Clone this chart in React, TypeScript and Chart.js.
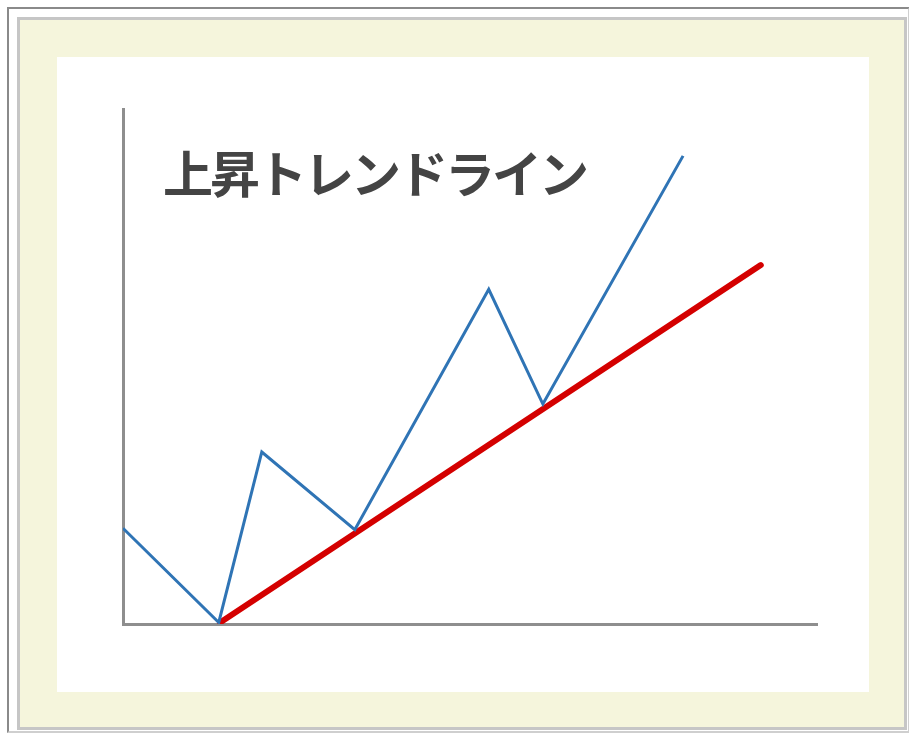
import React, { useEffect, useRef } from "react";
import { Chart, registerables } from "chart.js";

Chart.register(...registerables);

// Price swing (blue zigzag) – x position, price level
const swingX = [0, 13.8, 20.0, 33.4, 52.7, 60.5, 80.7];
const swingY = [18.6, 0.3, 33.4, 18.3, 65.0, 42.7, 90.9];

// Up-trend line (red) – start and end
const trendX = [14.0, 91.9];
const trendY = [0.3, 69.7];

const titleText = "上昇トレンドライン";

export default function App() {
  const ref = useRef<HTMLCanvasElement | null>(null);

  useEffect(() => {
    if (!ref.current) return;
    const chart = new Chart(ref.current, {
      type: "line",
      data: {
        datasets: [
          {
            label: "price",
            data: swingX.map((x, i) => ({ x, y: swingY[i] })),
            borderColor: "#2f74b5",
            borderWidth: 3,
            pointRadius: 0,
            fill: false,
            tension: 0,
            borderJoinStyle: "miter",
          },
          {
            label: "trend",
            data: trendX.map((x, i) => ({ x, y: trendY[i] })),
            borderColor: "#d40000",
            borderWidth: 6,
            pointRadius: 0,
            fill: false,
            tension: 0,
            borderCapStyle: "round",
          },
        ],
      },
      options: {
        animation: false,
        responsive: false,
        devicePixelRatio: 1,
        layout: { padding: { left: 66, top: 52, right: 52, bottom: 68 } },
        plugins: {
          legend: { display: false },
          tooltip: { enabled: false },
          title: { display: false },
        },
        scales: {
          x: {
            type: "linear",
            min: 0,
            max: 100,
            ticks: { display: false },
            grid: { display: false, drawTicks: false },
            border: { display: true, color: "#8e8e8e", width: 3 },
          },
          y: {
            type: "linear",
            min: 0,
            max: 100,
            ticks: { display: false },
            grid: { display: false, drawTicks: false },
            border: { display: true, color: "#8e8e8e", width: 3 },
          },
        },
      },
    });
    return () => chart.destroy();
  }, []);

  return (
    <div style={{ position: "absolute", left: 0, top: 0, width: 909, height: 736, background: "#fff" }}>
      <div
        style={{
          position: "absolute",
          left: 7,
          top: 7,
          width: 899,
          height: 722,
          borderLeft: "2px solid #8a8a8a",
          borderTop: "2px solid #8a8a8a",
          borderRight: "2px solid #cfcfcf",
          borderBottom: "2px solid #cfcfcf",
        }}
      />
      <div
        style={{
          position: "absolute",
          left: 17,
          top: 17,
          width: 884,
          height: 707,
          border: "3px solid #c6c6c6",
          background: "#f5f5dc",
        }}
      />
      <div
        style={{
          position: "absolute",
          left: 57,
          top: 57,
          width: 812,
          height: 635,
          background: "#ffffff",
        }}
      >
        <canvas ref={ref} width={812} height={635} style={{ display: "block" }} />
        <div
          style={{
            position: "absolute",
            left: 106,
            top: 84,
            fontFamily: "'Noto Sans CJK JP', sans-serif",
            fontWeight: 700,
            fontSize: 50,
            lineHeight: "60px",
            letterSpacing: -3,
            color: "#444444",
            whiteSpace: "nowrap",
          }}
        >
          {titleText}
        </div>
      </div>
    </div>
  );
}
